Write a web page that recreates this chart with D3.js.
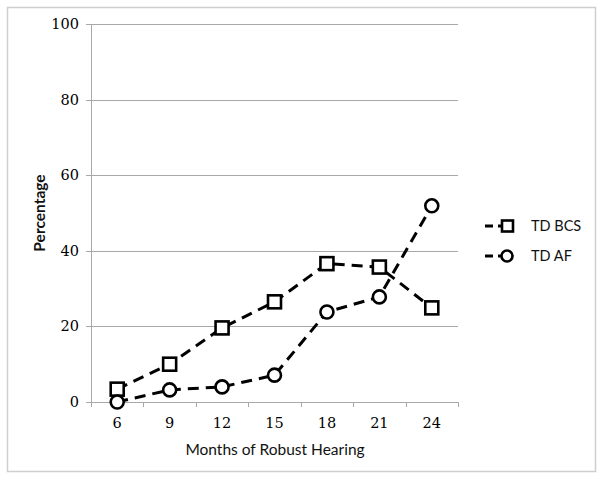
<!DOCTYPE html>
<html>
<head>
<meta charset="utf-8">
<script src="https://cdnjs.cloudflare.com/ajax/libs/d3/7.8.5/d3.min.js"></script>
<style>
  body { margin: 0; background: #fff; }
  svg { display: block; }
</style>
</head>
<body>
<div id="chart"></div>
<script>
// chart data
var months = ["6", "9", "12", "15", "18", "21", "24"];
var tdBcs = [3.4, 10.0, 19.6, 26.5, 36.6, 35.7, 24.9];
var tdAf = [0.0, 3.2, 4.0, 7.1, 23.8, 27.8, 51.9];
var yTicks = [0, 20, 40, 60, 80, 100];
var seriesNames = ["TD BCS", "TD AF"];

var width = 602, height = 485;
var margin = {left: 91, top: 24, right: 144, bottom: 83};

var svg = d3.select("#chart").append("svg")
  .attr("width", width)
  .attr("height", height);

// outer frame
svg.append("rect")
  .attr("x", 7.5).attr("y", 7.5)
  .attr("width", 588).attr("height", 464)
  .attr("fill", "none")
  .attr("stroke", "#cfcfcf")
  .attr("stroke-width", 1.5);

var x = d3.scaleBand()
  .domain(months)
  .range([margin.left, width - margin.right]);

var y = d3.scaleLinear()
  .domain([0, 100])
  .range([height - margin.bottom, margin.top]);

var g = svg.append("g");

// gridlines
g.selectAll("line.grid")
  .data(yTicks)
  .enter().append("line")
  .attr("class", "grid")
  .attr("x1", margin.left - 5)
  .attr("x2", width - margin.right)
  .attr("y1", function(d) { return Math.round(y(d)) + 0.5; })
  .attr("y2", function(d) { return Math.round(y(d)) + 0.5; })
  .attr("stroke", "#a8a8a8")
  .attr("stroke-width", 1);

// y axis line
g.append("line")
  .attr("x1", margin.left + 0.5).attr("x2", margin.left + 0.5)
  .attr("y1", y(100)).attr("y2", y(0))
  .attr("stroke", "#a8a8a8");

// x axis ticks at band edges
var edges = months.map(function(m) { return x(m); }).concat([x.range()[1]]);
g.selectAll("line.xtick")
  .data(edges)
  .enter().append("line")
  .attr("x1", function(d) { return Math.round(d) + 0.5; })
  .attr("x2", function(d) { return Math.round(d) + 0.5; })
  .attr("y1", y(0))
  .attr("y2", y(0) + 5)
  .attr("stroke", "#a8a8a8");

// tick labels
g.selectAll("text.ylab")
  .data(yTicks)
  .enter().append("text")
  .attr("x", margin.left - 12)
  .attr("y", function(d) { return y(d) + 5; })
  .attr("text-anchor", "end")
  .attr("font-family", "DejaVu Serif")
  .attr("font-size", 14.5)
  .attr("fill", "#000")
  .text(function(d) { return d; });

g.selectAll("text.xlab")
  .data(months)
  .enter().append("text")
  .attr("x", function(d) { return x(d) + x.bandwidth() / 2; })
  .attr("y", y(0) + 26)
  .attr("text-anchor", "middle")
  .attr("font-family", "DejaVu Serif")
  .attr("font-size", 14.5)
  .attr("fill", "#000")
  .text(function(d) { return d; });

// axis titles
svg.append("text")
  .attr("x", 275)
  .attr("y", 455)
  .attr("text-anchor", "middle")
  .attr("font-family", "Lato")
  .attr("font-size", 15.5)
  .attr("fill", "#111")
  .text("Months of  Robust Hearing");

svg.append("text")
  .attr("transform", "translate(45," + 213 + ") rotate(-90)")
  .attr("text-anchor", "middle")
  .attr("font-family", "Lato")
  .attr("font-weight", "bold")
  .attr("font-size", 15.5)
  .attr("fill", "#111")
  .text("Percentage");

var cx = function(d, i) { return x(months[i]) + x.bandwidth() / 2; };
var line = d3.line()
  .x(cx)
  .y(function(d) { return y(d); });

function drawLine(vals) {
  g.append("path")
    .datum(vals)
    .attr("d", line)
    .attr("fill", "none")
    .attr("stroke", "#000")
    .attr("stroke-width", 3)
    .attr("stroke-dasharray", "11,7");
}
drawLine(tdBcs);
drawLine(tdAf);

// markers
g.selectAll("rect.bcs")
  .data(tdBcs)
  .enter().append("rect")
  .attr("x", function(d, i) { return cx(d, i) - 6.5; })
  .attr("y", function(d) { return y(d) - 6.5; })
  .attr("width", 13).attr("height", 13)
  .attr("fill", "#fff")
  .attr("stroke", "#000")
  .attr("stroke-width", 2.6);

g.selectAll("circle.af")
  .data(tdAf)
  .enter().append("circle")
  .attr("cx", cx)
  .attr("cy", function(d) { return y(d); })
  .attr("r", 6.5)
  .attr("fill", "#fff")
  .attr("stroke", "#000")
  .attr("stroke-width", 2.6);

// legend
var legend = svg.append("g");
seriesNames.forEach(function(name, i) {
  var ly = 226 + i * 30;
  legend.append("line")
    .attr("x1", 485).attr("x2", 512)
    .attr("y1", ly).attr("y2", ly)
    .attr("stroke", "#000")
    .attr("stroke-width", 3)
    .attr("stroke-dasharray", "8,5");
  if (i === 0) {
    legend.append("rect")
      .attr("x", 502).attr("y", ly - 5.5)
      .attr("width", 11).attr("height", 11)
      .attr("fill", "#fff").attr("stroke", "#000").attr("stroke-width", 2.6);
  } else {
    legend.append("circle")
      .attr("cx", 507).attr("cy", ly).attr("r", 5.5)
      .attr("fill", "#fff").attr("stroke", "#000").attr("stroke-width", 2.6);
  }
  legend.append("text")
    .attr("x", 531).attr("y", ly + 5)
    .attr("font-family", "Lato")
    .attr("font-size", 14.5)
    .attr("fill", "#111")
    .text(name);
});
</script>
</body>
</html>
